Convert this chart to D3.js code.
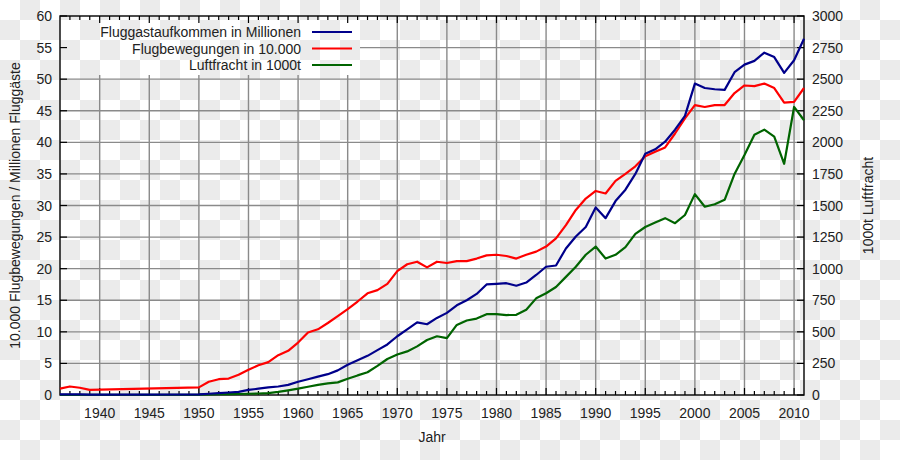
<!DOCTYPE html>
<html><head><meta charset="utf-8">
<script src="https://cdn.jsdelivr.net/npm/d3@7"></script>
<style>html,body{margin:0;padding:0;background:#fff}svg{display:block}</style>
</head><body>
<svg id="chart" width="900" height="460"></svg>
<script>
// ---- data ----
const years = [1936,1937,1938,1939,1950,1951,1952,1953,1954,1955,1956,1957,1958,1959,1960,1961,1962,1963,1964,1965,1966,1967,1968,1969,1970,1971,1972,1973,1974,1975,1976,1977,1978,1979,1980,1981,1982,1983,1984,1985,1986,1987,1988,1989,1990,1991,1992,1993,1994,1995,1996,1997,1998,1999,2000,2001,2002,2003,2004,2005,2006,2007,2008,2009,2010,2011];
const passengers = [0.1,0.1,0.1,0.05,0.1,0.2,0.3,0.4,0.5,0.8,1.0,1.2,1.35,1.6,2.1,2.5,2.9,3.3,3.9,4.8,5.5,6.2,7.1,8.0,9.3,10.4,11.5,11.2,12.2,13.0,14.2,15.0,16.0,17.5,17.6,17.7,17.3,17.8,19.0,20.3,20.5,23.2,25.1,26.6,29.7,28.0,30.7,32.5,35.0,38.2,38.9,40.1,42.0,44.2,49.3,48.6,48.4,48.3,51.1,52.3,52.9,54.2,53.5,51.0,53.0,56.4];
const movements = [1.0,1.35,1.15,0.8,1.2,2.1,2.5,2.6,3.2,4.0,4.7,5.2,6.3,7.0,8.3,9.9,10.4,11.4,12.5,13.6,14.8,16.1,16.6,17.6,19.6,20.7,21.1,20.2,21.1,20.9,21.2,21.2,21.6,22.1,22.2,22.0,21.6,22.2,22.7,23.5,24.8,26.9,29.3,31.1,32.3,31.9,33.9,35.0,36.2,37.8,38.5,39.2,41.4,43.8,45.9,45.6,45.9,45.9,47.8,49.0,48.9,49.3,48.6,46.3,46.4,48.6];
const cargo = [1,1,1,1,3,5,6,7,8,10,12,15,25,37,50,65,80,92,100,128,155,180,230,285,320,345,385,435,465,450,555,590,605,640,640,633,635,675,765,805,855,935,1015,1110,1175,1080,1110,1170,1275,1330,1365,1400,1360,1425,1590,1490,1510,1545,1750,1900,2060,2100,2045,1830,2280,2175];
const leftTicks = [0,5,10,15,20,25,30,35,40,45,50,55,60];
const rightTicks = [0,250,500,750,1000,1250,1500,1750,2000,2250,2500,2750,3000];
const xTicks = [1940,1945,1950,1955,1960,1965,1970,1975,1980,1985,1990,1995,2000,2005,2010];
const seriesNames = ["Fluggastaufkommen in Millionen","Flugbewegungen in 10.000","Luftfracht in 1000t"];
const seriesColors = ["#00008b","#ff0000","#006400"];
const xTitle = "Jahr", yTitle = "10.000 Flugbewegungen / Millionen Fluggäste", y2Title = "1000t Luftfracht";

// ---- layout ----
const svg = d3.select("#chart");
const L = 60, R = 804, T = 16, B = 395;
const FONT = "'Liberation Sans', Arial, sans-serif";
const TXT = "#222";

// checkerboard background
const defs = svg.append("defs");
const pat = defs.append("pattern").attr("id","chk").attr("width",40).attr("height",40).attr("patternUnits","userSpaceOnUse");
pat.append("rect").attr("width",40).attr("height",40).attr("fill","#fff");
pat.append("rect").attr("x",20).attr("y",0).attr("width",20).attr("height",20).attr("fill","#ebebeb");
pat.append("rect").attr("x",0).attr("y",20).attr("width",20).attr("height",20).attr("fill","#ebebeb");
svg.append("rect").attr("width",900).attr("height",460).attr("fill","url(#chk)");

const x = d3.scaleLinear().domain([1936,2011]).range([L,R]);
const y = d3.scaleLinear().domain([0,60]).range([B,T]);
const y2 = d3.scaleLinear().domain([0,3000]).range([B,T]);

// legend box extents (grid is not drawn there)
const legR = 360, legB = 75;

// grid
const grid = svg.append("g").attr("stroke","#8a8a8a").attr("stroke-width",1.4);
xTicks.forEach(t => {
  const px = x(t);
  grid.append("line").attr("x1",px).attr("x2",px).attr("y1", px < legR ? legB : T).attr("y2",B);
});
leftTicks.filter(t => t>0 && t<60).forEach(t => {
  const py = y(t);
  grid.append("line").attr("x1", py < legB ? legR : L).attr("x2",R).attr("y1",py).attr("y2",py);
});

// ticks
const tk = svg.append("g").attr("stroke","#000").attr("stroke-width",1.2);
for (let yr = 1937; yr <= 2010; yr++) {
  const major = yr % 5 === 0;
  const len = major ? 7 : 4;
  const px = x(yr);
  tk.append("line").attr("x1",px).attr("x2",px).attr("y1",B).attr("y2",B-len);
  tk.append("line").attr("x1",px).attr("x2",px).attr("y1",T).attr("y2",T+len);
}
leftTicks.forEach(t => tk.append("line").attr("x1",L).attr("x2",L+7).attr("y1",y(t)).attr("y2",y(t)));
rightTicks.forEach(t => tk.append("line").attr("x1",R).attr("x2",R-7).attr("y1",y2(t)).attr("y2",y2(t)));

// border
svg.append("rect").attr("x",L).attr("y",T).attr("width",R-L).attr("height",B-T)
  .attr("fill","none").attr("stroke","#000").attr("stroke-width",1.4);

// tick labels
const lab = svg.append("g").attr("font-family",FONT).attr("font-size",14).attr("fill",TXT);
leftTicks.forEach(t => lab.append("text").attr("x",L-8).attr("y",y(t)).attr("dy","0.36em").attr("text-anchor","end").text(t));
rightTicks.forEach(t => lab.append("text").attr("x",R+8).attr("y",y2(t)).attr("dy","0.36em").attr("text-anchor","start").text(t));
xTicks.forEach(t => lab.append("text").attr("x",x(t)).attr("y",418).attr("text-anchor","middle").text(t));

// axis titles
lab.append("text").attr("x",(L+R)/2).attr("y",442).attr("text-anchor","middle").text(xTitle);
lab.append("text").attr("transform",`translate(20,${(T+B)/2}) rotate(-90)`).attr("text-anchor","middle").text(yTitle);
lab.append("text").attr("transform",`translate(873,${(T+B)/2}) rotate(-90)`).attr("text-anchor","middle").text(y2Title);

// lines
const lineL = d3.line().x((d,i)=>x(years[i])).y(d=>y(d));
const lineR = d3.line().x((d,i)=>x(years[i])).y(d=>y2(d));
const lines = svg.append("g").attr("fill","none").attr("stroke-width",2.2).attr("stroke-linejoin","round");
lines.append("path").attr("d",lineR(cargo)).attr("stroke",seriesColors[2]);
lines.append("path").attr("d",lineL(movements)).attr("stroke",seriesColors[1]);
lines.append("path").attr("d",lineL(passengers)).attr("stroke",seriesColors[0]);

// legend
const leg = svg.append("g").attr("font-family",FONT).attr("font-size",14).attr("fill",TXT);
seriesNames.forEach((n,i) => {
  const yy = 32 + i*16.5;
  leg.append("text").attr("x",301).attr("y",yy).attr("dy","0.36em").attr("text-anchor","end").text(n);
  leg.append("line").attr("x1",312).attr("x2",352).attr("y1",yy).attr("y2",yy).attr("stroke",seriesColors[i]).attr("stroke-width",2.2);
});
</script>
</body></html>
